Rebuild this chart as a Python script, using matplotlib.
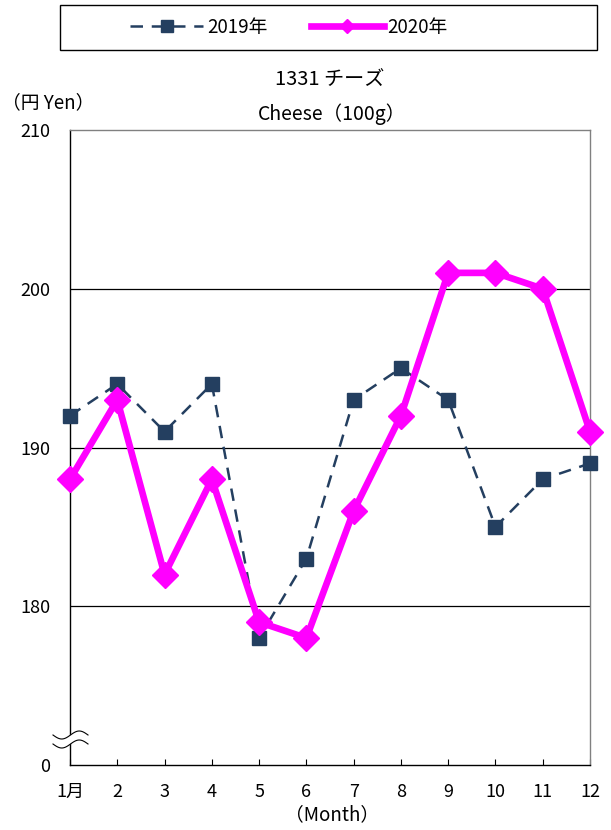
import numpy as np
import matplotlib
matplotlib.use('Agg')
import matplotlib.pyplot as plt
from matplotlib.patches import Rectangle, Polygon

plt.rcParams['font.family'] = ['Noto Sans CJK JP', 'DejaVu Sans']

months = np.arange(1, 13)
xlabels = ['1月', '2', '3', '4', '5', '6', '7', '8', '9', '10', '11', '12']
y2019 = [192, 194, 191, 194, 178, 183, 193, 195, 193, 185, 188, 189]
y2020 = [188, 193, 182, 188, 179, 178, 186, 192, 201, 201, 200, 191]
yticks = [170, 180, 190, 200, 210]
ylabels = ['0', '180', '190', '200', '210']

W, H = 611, 830
fig = plt.figure(figsize=(W / 100, H / 100), dpi=100)
ax = fig.add_axes([70 / W, 1 - 765 / H, 520 / W, 635 / H])

ax.plot(months, y2019, color='#243F60', lw=1.8, ls=(0, (5, 3.5)), marker='s',
        ms=9.5, label='2019年', clip_on=False, zorder=3)
ax.plot(months, y2020, color='#FF00FF', lw=4.8, marker='D', ms=13,
        label='2020年', clip_on=False, zorder=4)

ax.set_xlim(1, 12)
ax.set_ylim(170, 210)
ax.set_xticks(months)
ax.set_xticklabels(xlabels, fontsize=13)
ax.set_yticks(yticks)
ax.set_yticklabels(ylabels, fontsize=13)
ax.tick_params(axis='x', direction='in', length=4.5, pad=13)
ax.tick_params(axis='y', length=0, pad=14)
for v in [180, 190, 200]:
    ax.axhline(v, color='black', lw=0.9, zorder=1)
for s in ax.spines.values():
    s.set_linewidth(1.0)
ax.spines['right'].set_color('#808080')
ax.spines['top'].set_color('#808080')

# axis break marks
def px(x, y):
    return ((x - 70) / 520, (765 - y) / 635)

t = np.linspace(0, 1, 40)
xs = 53 + 35 * t
up = 735 + 4 * np.sin(2 * np.pi * t)
lo = 744 + 4 * np.sin(2 * np.pi * t)
poly = [px(a, b) for a, b in zip(xs, up)] + [px(a, b) for a, b in zip(xs[::-1], lo[::-1])]
ax.add_patch(Polygon(poly, closed=True, transform=ax.transAxes, facecolor='white',
                     edgecolor='none', clip_on=False, zorder=5))
for yy in (up, lo):
    pts = np.array([px(a, b) for a, b in zip(xs, yy)])
    ax.plot(pts[:, 0], pts[:, 1], transform=ax.transAxes, color='black', lw=0.8,
            clip_on=False, zorder=6)

fig.text(330 / W, 1 - 80 / H, '1331 チーズ', ha='center', va='center', fontsize=14.5)
fig.text(332 / W, 1 - 114 / H, 'Cheese（100g）', ha='center', va='center', fontsize=14)
fig.text(2 / W, 1 - 103 / H, '（円 Yen）', ha='left', va='center', fontsize=13.5)
fig.text(332 / W, 1 - 815 / H, '（Month）', ha='center', va='center', fontsize=13.5)

fig.patches.append(Rectangle((60 / W, 1 - 50 / H), 537 / W, 45 / H, transform=fig.transFigure,
                             facecolor='white', edgecolor='black', lw=1.0))
leg = fig.legend(loc='center', bbox_to_anchor=(289 / W, 1 - 27 / H), ncol=2, frameon=False,
                 fontsize=13.5, handlelength=3.9, columnspacing=2.3, handletextpad=0.2)
leg.legend_handles[0].set_markersize(9)
leg.legend_handles[1].set_markersize(7)

fig.savefig('out.png', dpi=100)
